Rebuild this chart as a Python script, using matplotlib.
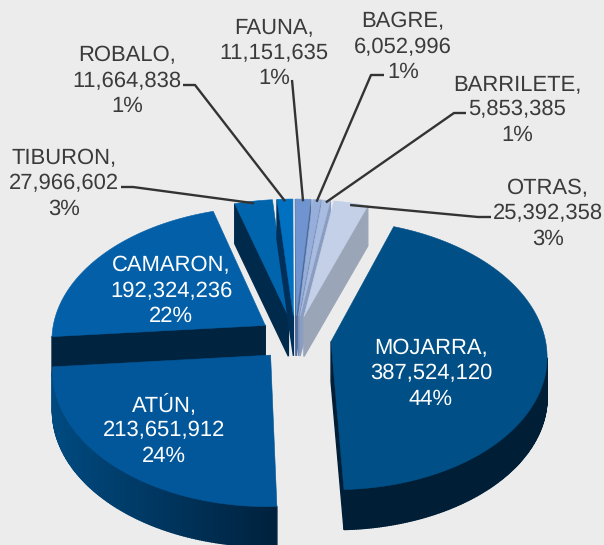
import numpy as np
import matplotlib
matplotlib.use("Agg")
import matplotlib.pyplot as plt
from matplotlib.patches import Polygon

plt.rcParams['font.family'] = ['Liberation Sans', 'DejaVu Sans']
plt.rcParams['text.hinting'] = 'no_hinting'
plt.rcParams['text.hinting_factor'] = 1

names = ["MOJARRA", "ATÚN", "CAMARON", "TIBURON", "ROBALO", "FAUNA", "BAGRE", "BARRILETE", "OTRAS"]
values = [387524120, 213651912, 192324236, 27966602, 11664838, 11151635, 6052996, 5853385, 25392358]
pcts = ["44%", "24%", "22%", "3%", "1%", "1%", "1%", "1%", "3%"]

top_colors = ["#004f86", "#02579a", "#0360a8", "#0065ad", "#0070c0", "#6f94cf", "#95aeda", "#a7bce0", "#c3d0e8"]
side_colors = ["#001f36", "#00213d", "#00243f", "#002a4c", "#00305a", "#4f6c9c", "#7a8fb5", "#8a9cc0", "#9aa5b8"]
rim_left = ["#001f36", "#004a80", "#00243f", "#002a4c", "#00305a", "#4f6c9c", "#7a8fb5", "#8a9cc0", "#9aa5b8"]
rim_right = ["#001f36", "#00213d", "#00243f", "#002a4c", "#00305a", "#4f6c9c", "#7a8fb5", "#8a9cc0", "#9aa5b8"]

label_xy = [(431, 374), (164, 430), (171, 291), (64, 184), (127, 81), (274, 53), (403, 47), (517, 110), (548, 214)]
label_color = ["white", "white", "white", "#3b3b3b", "#3b3b3b", "#3b3b3b", "#3b3b3b", "#3b3b3b", "#3b3b3b"]
leaders = [None, None, None,
           [(121, 187), (133, 187)],
           [(183, 85), (195, 85)],
           [(292, 80)],
           [(384, 75), (371, 75)],
           [(466, 113), (454, 113)],
           [(491, 217), (478, 217)]]

# pie geometry in pixels
cx, cy = 295, 338
rx = 214
ky = 0.62
persp = 0.10
expl = 0.17
thick = 40
start = 19.6


def project(x, y, z=0.0):
    # y points towards the viewer, z is the drop of the extruded side
    s = 1.0 / (1.0 - persp * y)
    return (cx + rx * x * s, cy + rx * ky * y * s + z)


def wedge_outline(a0, a1, z=0.0):
    mid = np.radians((a0 + a1) / 2)
    ox, oy = expl * np.sin(mid), -expl * np.cos(mid)
    ang = np.radians(np.linspace(a0, a1, max(int(a1 - a0) * 2, 4)))
    pts = [project(ox, oy, z)]
    for a in ang:
        pts.append(project(ox + np.sin(a), oy - np.cos(a), z))
    return np.array(pts)


def draw_wedge(ax, i, a0, a1):
    top = wedge_outline(a0, a1)
    bot = wedge_outline(a0, a1, thick)
    n = len(top)
    area = 0.5 * np.sum(top[:, 0] * np.roll(top[:, 1], -1) - np.roll(top[:, 0], -1) * top[:, 1])
    xs = top[:, 0]
    c0 = np.array(matplotlib.colors.to_rgb(rim_left[i]))
    c1 = np.array(matplotlib.colors.to_rgb(rim_right[i]))
    for j in range(n):
        k = (j + 1) % n
        dx = top[k, 0] - top[j, 0]
        # outward normal facing down the screen means the side is visible
        if dx * np.sign(area) > 0:
            continue
        rim = j != 0 and j != n - 1
        if rim:
            t = (xs[j] - xs.min()) / max(xs.max() - xs.min(), 1)
            col = c0 + (c1 - c0) * t
        else:
            col = side_colors[i]
        ax.add_patch(Polygon([top[j], top[k], bot[k], bot[j]], closed=True, fc=col, ec=col, lw=1.0))
    ax.add_patch(Polygon(top, closed=True, fc=top_colors[i], ec=top_colors[i], lw=0.4))


fig = plt.figure(figsize=(6.04, 5.45), dpi=100, facecolor="#ececec")
ax = fig.add_axes([0, 0, 1, 1])
ax.set_xlim(0, 604)
ax.set_ylim(545, 0)
ax.axis("off")

shares = np.array(values) / np.sum(values) * 360
ends = start + np.cumsum(shares)
starts = ends - shares

# back wedges first, front ones over them
for i in [3, 4, 5, 6, 7, 8, 2, 1, 0]:
    draw_wedge(ax, i, starts[i], ends[i])

for i in range(len(names)):
    txt = "%s,\n%s\n%s" % (names[i], format(values[i], ","), pcts[i])
    ax.text(label_xy[i][0], label_xy[i][1], txt, color=label_color[i], fontsize=15.9,
            ha="center", va="center", linespacing=1.29)
    if leaders[i] is not None:
        mid = np.radians((starts[i] + ends[i]) / 2)
        ox, oy = expl * np.sin(mid), -expl * np.cos(mid)
        p = project(ox + 0.98 * np.sin(mid), oy - 0.98 * np.cos(mid))
        pts = np.array(leaders[i] + [p])
        ax.plot(pts[:, 0], pts[:, 1], color="#333333", lw=1.7, solid_capstyle="butt")

fig.savefig("out.png", dpi=100, facecolor=fig.get_facecolor())
